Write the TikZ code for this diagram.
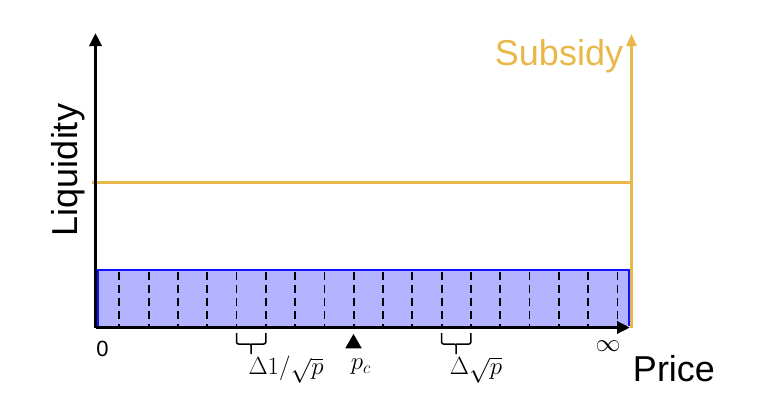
\documentclass[tikz,border=0pt]{standalone}
\usepackage{fontspec}
\setmainfont{Liberation Sans}
\usetikzlibrary{arrows.meta,shapes.geometric}
\definecolor{subsidy}{HTML}{E8B94A}
\definecolor{liqfill}{HTML}{B3B3FF}
\definecolor{liqedge}{HTML}{1010FF}
\begin{document}
\begin{tikzpicture}[x=1pt,y=-1pt,
  axis/.style={line width=3.5pt,-{Triangle[length=13pt,width=12pt]}},
  subline/.style={subsidy,line width=2.8pt},
  divline/.style={line width=1.8pt,dash pattern=on 8pt off 5pt},
  bigtext/.style={font=\fontsize{36}{40}\selectfont,inner sep=0pt},
  mathlabel/.style={font=\fontsize{24}{28}\selectfont,inner sep=0pt},
  bracestyle/.style={line width=1.5pt,rounded corners=2pt}]
\useasboundingbox (0,0) rectangle (758,400);
% coordinates
\coordinate (O) at (95.5,327.5);
\coordinate (ytop) at (95.5,33);
\coordinate (xend) at (630,327.5);
\coordinate (sbot) at (631.5,327.5);
\coordinate (stop) at (631.5,34);
\coordinate (hl) at (92,182.5);
\coordinate (hr) at (631.5,182.5);
% liquidity block
\fill[liqfill] (98,270) rectangle (629,326);
\draw[liqedge,line width=1.2pt] (98,326) -- (98,270) -- (629,270) -- (629,326);
\foreach \x in {119.3,148.6,177.9,207.2,236.5,265.8,295.1,324.4,353.7,383.0,412.3,441.6,470.9,500.2,529.5,558.8,588.1,617.4}
  \draw[divline] (\x,272) -- (\x,326);
% subsidy lines
\draw[subline] (hl) -- (hr);
\draw[subline,-{Triangle[length=12pt,width=10pt]}] (sbot) -- (stop);
% axes
\draw[axis] (O) -- (ytop);
\draw[axis] (O) -- (xend);
% braces
\coordinate (b1l) at (236.5,333);
\coordinate (b1r) at (265.8,333);
\coordinate (b1m) at (251.2,354);
\coordinate (b2l) at (441.6,333);
\coordinate (b2r) at (470.9,333);
\coordinate (b2m) at (456.2,354);
\draw[bracestyle] (b1l) |- (b1m |- 0,344) -- (b1m);
\draw[bracestyle] (b1r) |- (b1m |- 0,344);
\draw[bracestyle] (b2l) |- (b2m |- 0,344) -- (b2m);
\draw[bracestyle] (b2r) |- (b2m |- 0,344);
% p_c marker
\node[fill=black,regular polygon,regular polygon sides=3,minimum size=19pt,inner sep=0pt] (pc) at (353.5,343.5) {};
% labels
\node[bigtext] (liq) at (68,170) [rotate=90] {Liquidity};
\node[bigtext,text=subsidy] (sub) at (559,56) {Subsidy};
\node[bigtext] (price) at (674,369) {Price};
\node[font=\fontsize{22}{26}\selectfont,inner sep=0pt] (zero) at (102.5,349) {0};
\node[mathlabel] (inf) at (608,346) {$\infty$};
\node[mathlabel] (l1) at (286,370) {$\Delta 1/\sqrt{p}$};
\node[mathlabel] (l2) at (476,370) {$\Delta\sqrt{p}$};
\node[mathlabel] (pcl) at (361,367) {$p_c$};
\end{tikzpicture}
\end{document}
